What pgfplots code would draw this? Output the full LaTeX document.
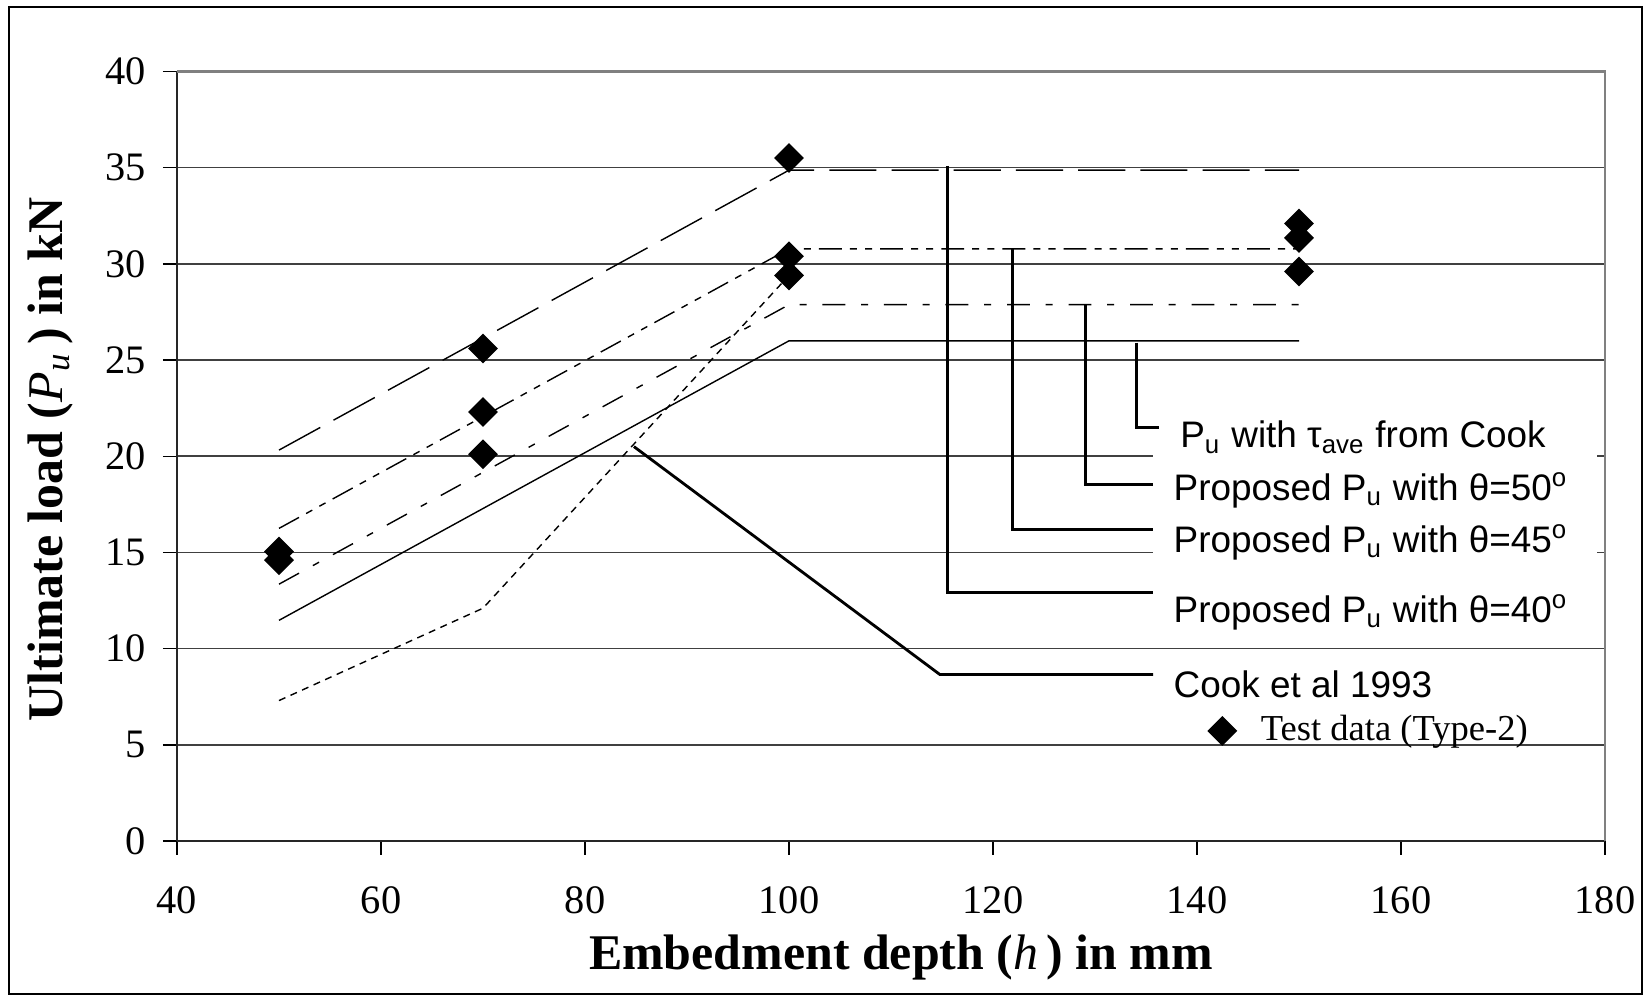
\documentclass[border=0pt]{standalone}
\usepackage{pgfplots}
\pgfplotsset{compat=1.18}
\usepackage{fontspec}
\setmainfont{Liberation Serif}
\newfontfamily\arialfont{Liberation Sans}

\begin{document}
\begin{tikzpicture}
\useasboundingbox (-1.77cm,-1.56cm) rectangle (14.71cm,8.41cm);
\draw[line width=0.6pt] (-1.68cm,-1.53cm) rectangle (14.65cm,8.34cm);
\begin{axis}[
  at={(0,0)}, anchor=south west,
  scale only axis, width=14.28cm, height=7.695cm,
  xmin=40, xmax=180, ymin=0, ymax=40,
  xtick={40,60,...,180}, ytick={0,5,...,40},
  axis lines=left, axis line style={-, line width=0.75pt, black!85},
  tick align=outside, major tick length=1.4mm,
  tick style={black, line width=0.4pt},
  ymajorgrids, grid style={black!75, line width=0.45pt},
  ticklabel style={font=\fontsize{11.5}{13}\selectfont},
  /pgf/number format/assume math mode=true,
  xticklabel style={yshift=-5.5pt},
  yticklabel style={xshift=-1.3pt},
  xlabel={\bfseries Embedment depth (\textnormal{\textit{h}}\,) in mm},
  ylabel={\bfseries Ultimate load (\textnormal{\textit{P}\textsubscript{\textit{u}}}\,) in kN},
  label style={font=\fontsize{14.2}{16}\selectfont},
  xlabel style={at={(axis description cs:0.507,-0.152)}, anchor=center},
  ylabel style={at={(axis description cs:-0.0889,0.496)}, anchor=center},
  legend style={at={(axis cs:141.05,5.72)}, anchor=west, inner sep=0pt,
    draw=none, fill=none, font=\fontsize{10.4}{12}\selectfont,
    /tikz/column sep=5pt},
  clip=false,
]
% theta = 40
\addplot[forget plot, black, line width=0.4pt, dash pattern=on 13.4pt off 4.3pt]
  coordinates {(50,20.32) (100,34.87) (150,34.87)};
% theta = 45
\addplot[forget plot, black, line width=0.4pt, dash pattern=on 6.5pt off 2.3pt on 2pt off 2.3pt on 2pt off 2.3pt]
  coordinates {(50,16.25) (100,30.78) (150,30.78)};
% theta = 50
\addplot[forget plot, black, line width=0.4pt, dash pattern=on 6.5pt off 4.5pt on 2pt off 4.5pt]
  coordinates {(50,13.35) (100,27.88) (150,27.88)};
% tau_ave from Cook
\addplot[forget plot, black, line width=0.4pt]
  coordinates {(50,11.47) (100,26.0) (150,26.0)};
% Cook et al 1993
\addplot[forget plot, black, line width=0.4pt, dash pattern=on 2pt off 1.6pt]
  coordinates {(50,7.3) (70,12.1) (100,29.4)};
% test data
\addplot[only marks, mark=square*, mark size=2.8pt, mark options={rotate=45, fill=black, draw=black}]
  coordinates {(50,15.04) (50,14.6) (70,25.6) (70,22.3) (70,20.1)
    (100,35.5) (100,30.4) (100,29.4) (150,32.1) (150,31.35) (150,29.6)};
\addlegendentry{Test data (Type-2)}

\fill[white] (axis cs:135.7,23.2) rectangle (axis cs:179.2,12.5);
\draw[gray, line width=0.8pt] (rel axis cs:0,1) -- (rel axis cs:1,1) -- (rel axis cs:1,0);

\draw[line width=0.8pt] (axis cs:115.5,35.1) |- (axis cs:135.7,12.9);
\draw[line width=0.8pt] (axis cs:121.9,30.8) |- (axis cs:135.7,16.2);
\draw[line width=0.8pt] (axis cs:129.1,27.9) |- (axis cs:135.7,18.55);
\draw[line width=0.8pt] (axis cs:134.1,25.9) |- (axis cs:136.3,21.5);
\draw[line width=0.8pt] (axis cs:84.8,20.5) -- (axis cs:114.8,8.65) -- (axis cs:135.7,8.65);

\begin{scope}[every node/.style={anchor=base west, inner sep=0pt, font=\arialfont\fontsize{10.5}{12}\selectfont}]
\node at (axis cs:138.3,20.43) {P\textsubscript{u} with τ\textsubscript{ave} from Cook};
\node at (axis cs:137.65,17.72) {Proposed P\textsubscript{u} with θ=50\textsuperscript{o}};
\node at (axis cs:137.65,15.02) {Proposed P\textsubscript{u} with θ=45\textsuperscript{o}};
\node at (axis cs:137.65,11.38) {Proposed P\textsubscript{u} with θ=40\textsuperscript{o}};
\node at (axis cs:137.65,7.48) {Cook et al 1993};
\end{scope}
\end{axis}
\end{tikzpicture}
\end{document}
